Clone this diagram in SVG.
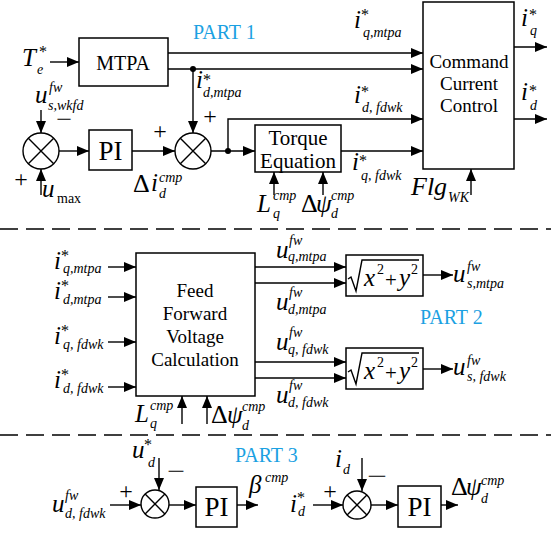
<svg xmlns="http://www.w3.org/2000/svg" width="551" height="533" viewBox="0 0 551 533" font-family="Liberation Serif, Times New Roman, Times, DejaVu Serif, serif">
<defs>
<marker id="ah" markerWidth="12" markerHeight="10" refX="12" refY="5" orient="auto" markerUnits="userSpaceOnUse"><path d="M0,0 L12,5 L0,10 z" fill="#000"/></marker>
<style>
.box{fill:#fff;stroke:#000;stroke-width:1.5}
.ln{fill:none;stroke:#000;stroke-width:1.4;marker-end:url(#ah)}
.pl{fill:none;stroke:#000;stroke-width:1.4}
.cx{fill:none;stroke:#000;stroke-width:1.4}
.dash{stroke:#000;stroke-width:1.4;stroke-dasharray:18 8}
text{fill:#000}
.bt{font-size:19px;text-anchor:middle}
.v{font-size:25px;font-style:italic}
.s{font-size:14px;font-style:italic}
.r{font-size:14px}
.st{font-size:16px}
.n{font-size:26px}
.sg{font-size:24px;text-anchor:middle}
.mn{font-size:18px;text-anchor:middle}
.pt{font-size:20px;fill:#1ba1e2}
</style>
</defs>
<rect width="551" height="533" fill="#fff"/>

<line class="dash" x1="0" y1="229" x2="551" y2="229"/>
<line class="dash" x1="0" y1="435" x2="551" y2="435"/>

<g id="mtpa"><rect class="box" x="79" y="38" width="89" height="48"/><text class="bt" x="123" y="70" style="font-size:20px">MTPA</text></g>
<g id="ccc"><rect class="box" x="423" y="2" width="91" height="167"/>
<text class="bt" x="469" y="68">Command</text><text class="bt" x="469" y="90">Current</text><text class="bt" x="469" y="112">Control</text></g>
<g id="sum1"><circle class="cx" cx="41" cy="151" r="18"/><path class="cx" d="M28.3,138.3 L53.7,163.7 M53.7,138.3 L28.3,163.7"/></g>
<g id="pi1"><rect class="box" x="89" y="130" width="43" height="40"/><text class="bt" x="110.5" y="160" style="font-size:27px">PI</text></g>
<g id="sum2"><circle class="cx" cx="193" cy="151" r="18"/><path class="cx" d="M180.3,138.3 L205.7,163.7 M205.7,138.3 L180.3,163.7"/></g>
<g id="torque"><rect class="box" x="255" y="125" width="86" height="47"/><text class="bt" x="298" y="145" style="font-size:21px">Torque</text><text class="bt" x="298" y="168" style="font-size:21px">Equation</text></g>

<g id="ffvc"><rect class="box" x="136" y="253" width="119" height="143"/>
<text class="bt" x="195" y="297">Feed</text><text class="bt" x="195" y="320">Forward</text><text class="bt" x="195" y="343">Voltage</text><text class="bt" x="195" y="366">Calculation</text></g>

<g id="sqrt1"><rect class="box" x="346" y="255" width="77" height="41"/>
<path class="pl" d="M348,279 L351,277 L356,291 L362,260 L419,260"/>
<text class="v" x="364" y="286">x</text><text class="r" x="377" y="274">2</text><text class="n" x="385" y="287" style="font-size:21px">+</text><text class="v" x="399" y="286">y</text><text class="r" x="411" y="274">2</text></g>
<g id="sqrt2"><rect class="box" x="346" y="348" width="77" height="41"/>
<path class="pl" d="M348,372 L351,370 L356,384 L362,353 L419,353"/>
<text class="v" x="364" y="379">x</text><text class="r" x="377" y="367">2</text><text class="n" x="385" y="380" style="font-size:21px">+</text><text class="v" x="399" y="379">y</text><text class="r" x="411" y="367">2</text></g>

<g id="sum3"><circle class="cx" cx="155" cy="504" r="14"/><path class="cx" d="M145.1,494.1 L164.9,513.9 M164.9,494.1 L145.1,513.9"/></g>
<g id="pi3"><rect class="box" x="196" y="487" width="41" height="40"/><text class="bt" x="216.5" y="516" style="font-size:27px">PI</text></g>
<g id="sum4"><circle class="cx" cx="357" cy="505" r="14"/><path class="cx" d="M347.1,495.1 L366.9,514.9 M366.9,495.1 L347.1,514.9"/></g>
<g id="pi4"><rect class="box" x="398" y="486" width="43" height="41"/><text class="bt" x="419.5" y="516" style="font-size:27px">PI</text></g>

<g id="connectors">
<path class="ln" d="M50,62 H79"/>
<path class="ln" d="M168,53 H423"/>
<path class="ln" d="M168,69 H423"/>
<path class="ln" d="M193,69 V133"/>
<path class="ln" d="M41,110 V133"/>
<path class="ln" d="M41,195 V169"/>
<path class="ln" d="M59,151 H89"/>
<path class="ln" d="M132,151 H175"/>
<path class="ln" d="M211,151 H255"/>
<path class="ln" d="M228,151 V119 H423"/>
<path class="ln" d="M341,151 H423"/>
<path class="ln" d="M514,47 H547"/>
<path class="ln" d="M514,119 H547"/>
<path class="ln" d="M471,195 V169"/>
<path class="ln" d="M274,195 V172"/>
<path class="ln" d="M323,195 V172"/>
<circle cx="193" cy="69" r="3"/>
<circle cx="228" cy="151" r="3"/>
<path class="ln" d="M108,267 H136"/>
<path class="ln" d="M108,297 H136"/>
<path class="ln" d="M108,342 H136"/>
<path class="ln" d="M108,387 H136"/>
<path class="ln" d="M255,267 H346"/>
<path class="ln" d="M255,283 H346"/>
<path class="ln" d="M255,362 H346"/>
<path class="ln" d="M255,378 H346"/>
<path class="ln" d="M423,275 H453"/>
<path class="ln" d="M423,369 H453"/>
<path class="ln" d="M182,424 V396"/>
<path class="ln" d="M207,424 V396"/>
<path class="ln" d="M110,505 H141"/>
<path class="ln" d="M159,458 V490"/>
<path class="ln" d="M169,505 H196"/>
<path class="ln" d="M237,505 H258"/>
<path class="ln" d="M313,505 H343"/>
<path class="ln" d="M362,458 V491"/>
<path class="ln" d="M371,505 H398"/>
<path class="ln" d="M441,505 H458"/>
</g>

<g id="labels">
<text class="pt" x="193" y="39">PART 1</text>
<text class="pt" x="420" y="324">PART 2</text>
<text class="pt" x="235" y="462">PART 3</text>

<text class="v" x="22" y="66">T</text><text class="st" x="39" y="57">*</text><text class="s" x="37" y="74">e</text>

<text class="v" x="35" y="103">u</text><text class="s" x="49" y="92">fw</text><text class="s" x="48" y="110">s,wkfd</text>
<text class="mn" x="64" y="125" textLength="16" lengthAdjust="spacingAndGlyphs">−</text>
<text class="sg" x="21" y="187">+</text>
<text class="v" x="42" y="197">u</text><text class="r" x="57" y="203">max</text>

<text class="n" x="133" y="192">Δ</text><text class="v" x="151" y="191">i</text><text class="s" x="159" y="182">cmp</text><text class="s" x="159" y="198">d</text>
<text class="sg" x="160" y="139">+</text>
<text class="sg" x="210" y="124">+</text>

<text class="v" x="196" y="88">i</text><text class="st" x="203" y="85">*</text><text class="s" x="203" y="97">d,mtpa</text>

<text class="v" x="354" y="28">i</text><text class="st" x="361" y="20">*</text><text class="s" x="363" y="37">q,mtpa</text>
<text class="v" x="354" y="103">i</text><text class="st" x="361" y="97">*</text><text class="s" x="362" y="112">d, fdwk</text>
<text class="v" x="352" y="170">i</text><text class="st" x="359" y="166">*</text><text class="s" x="361" y="180">q, fdwk</text>

<text class="v" x="521" y="26">i</text><text class="st" x="529" y="20">*</text><text class="s" x="530" y="35">q</text>
<text class="v" x="521" y="100">i</text><text class="st" x="529" y="96">*</text><text class="s" x="530" y="110">d</text>

<text class="v" x="411" y="195" style="font-size:26px">Flg</text><text class="s" x="448" y="202">WK</text>

<text class="v" x="257" y="212">L</text><text class="s" x="273" y="200">cmp</text><text class="s" x="273" y="218">q</text>
<text class="n" x="301" y="212">Δ</text><text class="v" x="316" y="212">ψ</text><text class="s" x="331" y="200">cmp</text><text class="s" x="331" y="218">d</text>

<text class="v" x="54" y="269">i</text><text class="st" x="61" y="261">*</text><text class="s" x="63" y="273">q,mtpa</text>
<text class="v" x="54" y="299">i</text><text class="st" x="61" y="291">*</text><text class="s" x="63" y="304">d,mtpa</text>
<text class="v" x="54" y="344">i</text><text class="st" x="61" y="336">*</text><text class="s" x="63" y="349">q, fdwk</text>
<text class="v" x="54" y="388">i</text><text class="st" x="61" y="380">*</text><text class="s" x="63" y="393">d, fdwk</text>

<text class="v" x="276" y="258">u</text><text class="s" x="289" y="245">fw</text><text class="s" x="288" y="261">q,mtpa</text>
<text class="v" x="276" y="310">u</text><text class="s" x="289" y="297">fw</text><text class="s" x="288" y="314">d,mtpa</text>
<text class="v" x="276" y="350">u</text><text class="s" x="289" y="337">fw</text><text class="s" x="288" y="354">q, fdwk</text>
<text class="v" x="276" y="403">u</text><text class="s" x="289" y="390">fw</text><text class="s" x="288" y="407">d, fdwk</text>

<text class="v" x="453" y="282">u</text><text class="s" x="467" y="271">fw</text><text class="s" x="467" y="288">s,mtpa</text>
<text class="v" x="453" y="375">u</text><text class="s" x="467" y="365">fw</text><text class="s" x="467" y="381">s, fdwk</text>

<text class="v" x="135" y="422">L</text><text class="s" x="150" y="410">cmp</text><text class="s" x="150" y="428">q</text>
<text class="n" x="211" y="423">Δ</text><text class="v" x="227" y="423">ψ</text><text class="s" x="242" y="411">cmp</text><text class="s" x="242" y="430">d</text>

<text class="v" x="132" y="458">u</text><text class="st" x="144" y="450">*</text><text class="s" x="148" y="467">d</text>
<text class="mn" x="176" y="477" textLength="18" lengthAdjust="spacingAndGlyphs">−</text>
<text class="v" x="52" y="512">u</text><text class="s" x="65" y="500">fw</text><text class="s" x="65" y="518">d, fdwk</text>
<text class="sg" x="126" y="499">+</text>
<text class="v" x="249" y="493">β</text><text class="s" x="265" y="482">cmp</text>

<text class="v" x="290" y="512">i</text><text class="st" x="297" y="503">*</text><text class="s" x="298" y="516">d</text>
<text class="sg" x="330" y="499">+</text>
<text class="v" x="335" y="467">i</text><text class="s" x="343" y="474">d</text>
<text class="mn" x="377" y="482" textLength="20" lengthAdjust="spacingAndGlyphs">−</text>
<text class="n" x="451" y="495">Δ</text><text class="v" x="466" y="495">ψ</text><text class="s" x="481" y="485">cmp</text><text class="s" x="481" y="503">d</text>
</g>
</svg>
